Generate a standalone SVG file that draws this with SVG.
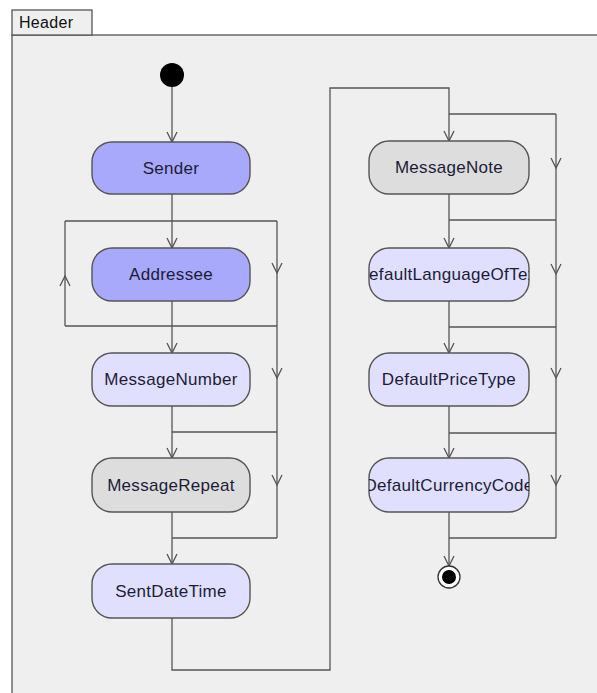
<svg xmlns="http://www.w3.org/2000/svg" width="597" height="693" viewBox="0 0 597 693">
<style>
.frame{fill:#efefef;stroke:#555;stroke-width:1.3}
.node rect{stroke:#555;stroke-width:1.4}
.dark rect{fill:#a9a9fc}
.light rect{fill:#e0e0fe}
.gray rect{fill:#dddddd}
.node text{font-family:"Liberation Sans",Arial,sans-serif;font-size:17px;letter-spacing:0.3px;fill:#1c1c38;text-anchor:middle}
.conn path{fill:none;stroke:#555;stroke-width:1.3}
.arr{marker-end:url(#ah)}
</style>
<defs>
<marker id="ah" markerUnits="userSpaceOnUse" markerWidth="14" markerHeight="14" viewBox="-12 -7 14 14" refX="0" refY="0" orient="auto">
<path d="M-10,-5 L0,0 L-10,5" fill="none" stroke="#555" stroke-width="1.3"/>
</marker>
<clipPath id="c1"><rect x="369" y="248" width="160" height="53" rx="20"/></clipPath>
<clipPath id="c2"><rect x="369" y="458" width="160" height="54" rx="20"/></clipPath>
</defs>
<rect width="597" height="693" fill="#ffffff"/>
<g id="frame">
<rect class="frame" x="12" y="35" width="600" height="680"/>
<rect class="frame" x="12" y="10" width="80" height="25"/>
<text x="19" y="28" font-family="Liberation Sans,Arial,sans-serif" font-size="16" letter-spacing="0.3" fill="#111">Header</text>
</g>
<g id="connectors" class="conn">
<path class="arr" d="M172,87 L172,142"/>
<path class="arr" d="M172,194 L172,248"/>
<path class="arr" d="M172,301 L172,353"/>
<path class="arr" d="M172,406 L172,458"/>
<path class="arr" d="M172,512 L172,564"/>
<path d="M65,221 L277,221"/>
<path d="M65,326 L277,326"/>
<path class="arr" d="M65,326 L65,276"/>
<path d="M65,277 L65,221"/>
<path class="arr" d="M277,221 L277,273"/>
<path class="arr" d="M277,272 L277,378"/>
<path class="arr" d="M277,377 L277,485"/>
<path d="M277,484 L277,538"/>
<path d="M172,432 L277,432"/>
<path d="M172,538 L277,538"/>
<path class="arr" d="M172,618 L172,670 L330,670 L330,88 L449,88 L449,141"/>
<path d="M449,114 L556,114"/>
<path class="arr" d="M556,114 L556,168"/>
<path class="arr" d="M556,167 L556,274"/>
<path class="arr" d="M556,273 L556,378"/>
<path class="arr" d="M556,377 L556,485"/>
<path d="M556,484 L556,538"/>
<path d="M449,220 L556,220"/>
<path d="M449,327 L556,327"/>
<path d="M449,433 L556,433"/>
<path d="M449,538 L556,538"/>
<path class="arr" d="M449,194 L449,248"/>
<path class="arr" d="M449,301 L449,353"/>
<path class="arr" d="M449,406 L449,458"/>
<path class="arr" d="M449,512 L449,566"/>
</g>
<g id="start"><circle cx="172" cy="75" r="12" fill="#000"/></g>
<g id="end"><circle cx="449" cy="577" r="11" fill="#fff" stroke="#333" stroke-width="1.3"/><circle cx="449" cy="577" r="7" fill="#000"/></g>
<g id="sender" class="node dark"><rect x="92" y="142" width="158" height="52" rx="20"/><text x="171" y="174">Sender</text></g>
<g id="addressee" class="node dark"><rect x="92" y="248" width="158" height="53" rx="20"/><text x="171" y="280">Addressee</text></g>
<g id="messageNumber" class="node light"><rect x="92" y="353" width="158" height="53" rx="20"/><text x="171" y="385">MessageNumber</text></g>
<g id="messageRepeat" class="node gray"><rect x="92" y="458" width="158" height="54" rx="20"/><text x="171" y="491">MessageRepeat</text></g>
<g id="sentDateTime" class="node light"><rect x="92" y="564" width="158" height="54" rx="20"/><text x="171" y="597">SentDateTime</text></g>
<g id="messageNote" class="node gray"><rect x="369" y="141" width="160" height="53" rx="20"/><text x="449" y="173">MessageNote</text></g>
<g id="defaultLanguageOfText" class="node light"><rect x="369" y="248" width="160" height="53" rx="20"/><text x="449" y="280" clip-path="url(#c1)">DefaultLanguageOfText</text></g>
<g id="defaultPriceType" class="node light"><rect x="369" y="353" width="160" height="53" rx="20"/><text x="449" y="385">DefaultPriceType</text></g>
<g id="defaultCurrencyCode" class="node light"><rect x="369" y="458" width="160" height="54" rx="20"/><text x="449" y="491" clip-path="url(#c2)">DefaultCurrencyCode</text></g>
</svg>
